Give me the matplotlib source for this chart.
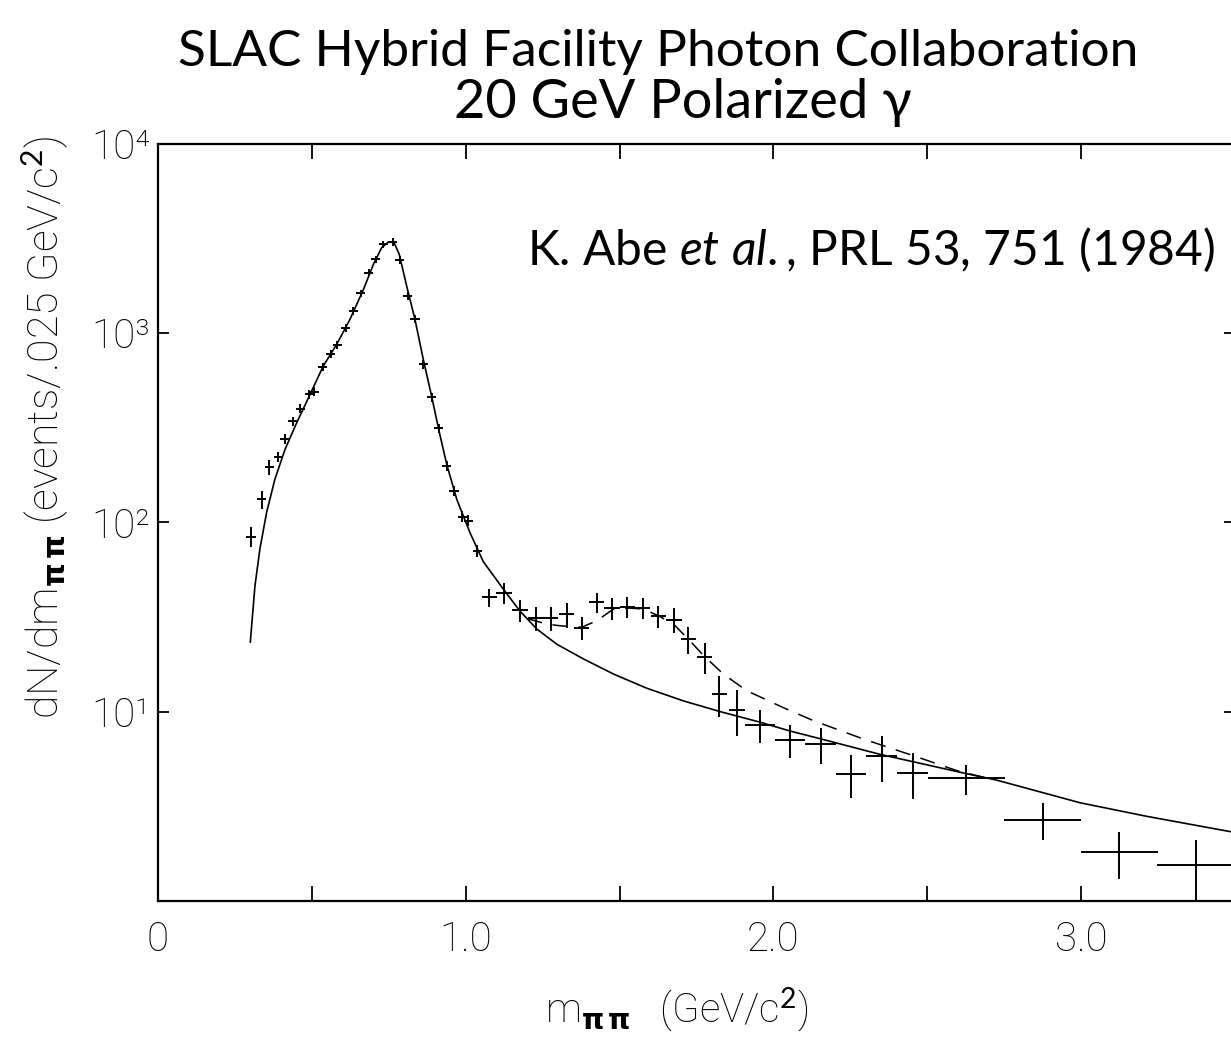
import matplotlib
matplotlib.use('Agg')
import matplotlib.pyplot as plt
from matplotlib.ticker import NullLocator

plt.rcParams['mathtext.fontset'] = 'custom'
plt.rcParams['mathtext.rm'] = 'Lato'
plt.rcParams['mathtext.it'] = 'Lato:italic'
plt.rcParams['mathtext.bf'] = 'DejaVu Sans:bold'

mass = [0.302, 0.337, 0.362, 0.391, 0.413, 0.438, 0.462, 0.492, 0.507, 0.535,
        0.561, 0.583, 0.610, 0.635, 0.659, 0.685, 0.708, 0.732, 0.763, 0.786,
        0.811, 0.835, 0.862, 0.889, 0.912, 0.938, 0.962, 0.989, 1.008, 1.038,
        1.077, 1.124, 1.176, 1.228, 1.276, 1.328, 1.377, 1.426, 1.476, 1.525,
        1.575, 1.626, 1.677, 1.724, 1.776, 1.824, 1.881, 1.956, 2.054, 2.154,
        2.252, 2.352, 2.453, 2.626, 2.875, 3.124, 3.373]
counts = [84, 132, 195, 222, 275, 341, 398, 474, 490, 661,
          771, 861, 1058, 1306, 1619, 2080, 2443, 2935, 3018, 2426,
          1566, 1180, 683, 459, 313, 198, 146, 107, 102, 70.6,
          40.1, 42.4, 34.2, 31.2, 31.1, 32.7, 27.8, 37.8, 35.1, 35.8,
          35.2, 31.8, 30.6, 24.1, 19.4, 12.4, 10.2, 8.5, 7.1, 6.75,
          4.7, 5.85, 4.74, 4.45, 2.69, 1.81, 1.55]
count_err = [10, 15, 17, 14, 17, 20, 22, 25, 25, 33,
             38, 42, 50, 62, 75, 95, 110, 130, 135, 110,
             75, 58, 36, 25, 18, 12, 9, 7, 7, 5,
             4.5, 5.2, 4.6, 4.6, 4.6, 4.9, 3.9, 4.6, 4.6, 4.4,
             4.4, 4.3, 4.5, 4.0, 3.6, 3.0, 2.8, 1.7, 1.4, 1.45,
             1.2, 1.6, 1.3, 0.8, 0.6, 0.5, 0.55]
mass_err = [0.015] * 30 + [0.025] * 17 + [0.05] * 6 + [0.125, 0.125, 0.125, 0.125]

# Fitted curves (solid: rho + background, dashed: with the 1.6 GeV state)
fit_mass = [0.300, 0.315, 0.331, 0.353, 0.380, 0.413, 0.451, 0.487, 0.537, 0.581,
            0.624, 0.668, 0.700, 0.727, 0.749, 0.767, 0.784, 0.808, 0.835, 0.862,
            0.889, 0.914, 0.938, 0.971, 1.014, 1.057, 1.122, 1.176, 1.231, 1.296,
            1.382, 1.480, 1.588, 1.707, 1.827, 1.956, 2.054, 2.151, 2.346, 2.628,
            2.725, 2.997, 3.213, 3.500]
fit_total = [23.3, 46, 72, 113, 169, 243, 336, 447, 668, 871,
             1180, 1700, 2300, 2820, 3020, 3000, 2600, 1770, 1180, 726,
             464, 300, 203, 132, 88, 62, 44.4, 34.0, 27.3, 22.7,
             19.0, 15.8, 13.3, 11.4, 10.0, 8.8, 7.9, 7.2, 5.95, 4.7,
             4.35, 3.3, 2.8, 2.3]
fit2_mass = [1.200, 1.263, 1.307, 1.377, 1.426, 1.480, 1.534, 1.577, 1.626, 1.675,
             1.724, 1.774, 1.837, 1.913, 2.032, 2.130, 2.292, 2.455, 2.596, 2.690]
fit2_total = [31.0, 29.0, 28.4, 27.9, 30.2, 34.8, 35.2, 34.8, 32.1, 29.0,
              24.1, 19.7, 15.8, 12.9, 10.5, 8.96, 7.17, 5.85, 4.88, 4.47]

x_ticks = [0, 0.5, 1.0, 1.5, 2.0, 2.5, 3.0, 3.5]
x_tick_labels = ['0', '', '1.0', '', '2.0', '', '3.0', '']
y_ticks = [1, 10, 100, 1000, 10000]
y_tick_labels = ['', '10¹', '10²', '10³', '10⁴']

thin = ['Roboto', 'DejaVu Sans']

fig = plt.figure(figsize=(12.31, 10.41), dpi=100)
ax = fig.add_axes([158 / 1231, 1 - 901 / 1041, (1235 - 158) / 1231, (901 - 143.5) / 1041])

ax.plot(fit_mass, fit_total, color='black', lw=1.2)
ax.plot(fit2_mass, fit2_total, color='black', lw=1.1, linestyle=(0, (10, 7)))
ax.errorbar(mass, counts, xerr=mass_err, yerr=count_err, fmt='none',
            ecolor='black', elinewidth=1.4, capsize=0)

ax.set_yscale('log')
ax.set_xlim(0, 3.5)
ax.set_ylim(1, 1e4)
ax.set_xticks(x_ticks)
ax.set_xticklabels(x_tick_labels, family=thin, fontweight='light', fontsize=29)
ax.set_yticks(y_ticks)
ax.set_yticklabels(y_tick_labels, family=thin, fontweight='light', fontsize=29)
ax.yaxis.set_minor_locator(NullLocator())
ax.xaxis.set_minor_locator(NullLocator())
ax.tick_params(axis='x', direction='in', top=True, length=11, width=1.3, pad=14)
ax.tick_params(axis='y', direction='in', right=True, length=8, width=1.3, pad=6)
for s in ax.spines.values():
    s.set_linewidth(1.6)

fig.text(658 / 1231, 1 - 66 / 1041, 'SLAC Hybrid Facility Photon Collaboration',
         ha='center', va='baseline', family='Lato', fontsize=37)
fig.text(683 / 1231, 1 - 118 / 1041, '20 GeV Polarized γ',
         ha='center', va='baseline', family=['Lato', 'DejaVu Sans'], fontsize=39)
fig.text(527 / 1231, 1 - 265 / 1041, r'K. Abe $\mathit{et\ al.}$, PRL 53, 751 (1984)',
         ha='left', va='baseline', family='Lato', fontsize=34.5)

fig.text(45 / 1231, 1 - 427 / 1041,
         r'dN/dm$_{\mathbf{\pi\,\pi}}$ (events/.025 GeV/c$^2$)',
         rotation=90, ha='center', va='center', family=thin, fontweight='light', fontsize=31)
fig.text(677 / 1231, 1 - 1010 / 1041, r'm$_{\mathbf{\pi\,\pi}}$   (GeV/c$^2$)',
         ha='center', va='center', family=thin, fontweight='light', fontsize=29)

fig.savefig('out.png', dpi=100)
